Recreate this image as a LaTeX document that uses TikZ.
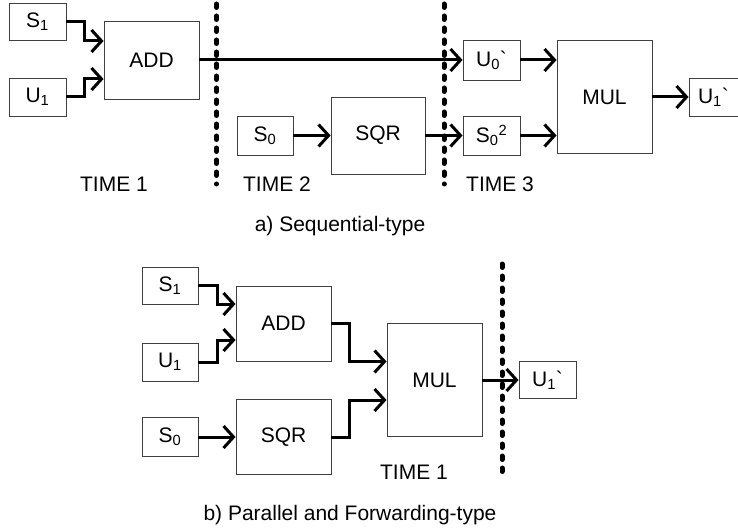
\documentclass[tikz,border=0pt]{standalone}
\usepackage{fontspec}
\setmainfont{Liberation Sans}[Ligatures=TeXOff]
\usetikzlibrary{arrows.meta}

\begin{document}
\begin{tikzpicture}[x=1pt,y=-1pt,
  box/.style={draw=black!75, line width=0.9pt, inner sep=0pt,
    font=\fontsize{21}{25}\selectfont},
  flow/.style={line width=3pt, -{Straight Barb[length=10pt,width=22pt]}},
  divider/.style={line width=5pt, line cap=round, dash pattern=on 3.5pt off 8.5pt},
  lbl/.style={font=\fontsize{21}{25}\selectfont, anchor=base, inner sep=0pt}]

\clip (0,0) rectangle (738,529);

% ---------- a) sequential schedule ----------
\node[box, minimum width=57pt, minimum height=37pt] (S1a) at (37.5,21.5) {S\textsubscript{1}};
\node[box, minimum width=57pt, minimum height=38pt] (U1a) at (37.5,97) {U\textsubscript{1}};
\node[box, minimum width=95pt, minimum height=78pt] (ADDa) at (151.5,60) {ADD};
\node[box, minimum width=56pt, minimum height=39pt] (S0a) at (265,135.5) {S\textsubscript{0}};
\node[box, minimum width=94pt, minimum height=77pt] (SQRa) at (378,135.5) {SQR};
\node[box, minimum width=57pt, minimum height=40pt] (U0a) at (491.5,60) {U\textsubscript{0}`};
\node[box, minimum width=57pt, minimum height=39pt] (S02a) at (491.5,135.5) {S\textsubscript{0}\textsuperscript{2}};
\node[box, minimum width=95pt, minimum height=113pt] (MULa) at (604.5,97) {MUL};
\node[box, minimum width=62pt, minimum height=38pt, text width=50pt, align=left] (U1pa) at (720,97) {\hspace*{3pt}U\textsubscript{1}`};

\coordinate (d1t) at (216.5,4);
\coordinate (d1b) at (216.5,184);
\coordinate (d2t) at (444,4);
\coordinate (d2b) at (444,184);
\draw[divider] (d1t) -- (d1b);
\draw[divider] (d2t) -- (d2b);

\draw[flow] (S1a.east) -- ++(18,0) |- ([yshift=19pt]ADDa.west);
\draw[flow] (U1a.east) -- ++(18,0) |- ([yshift=-19pt]ADDa.west);
\draw[flow] (ADDa.east) -- (U0a.west);
\draw[flow] (S0a.east) -- (SQRa.west);
\draw[flow] (SQRa.east) -- (S02a.west);
\draw[flow] (U0a.east) -- (U0a.east -| MULa.west);
\draw[flow] (S02a.east) -- (S02a.east -| MULa.west);
\draw[flow] (MULa.east) -- (U1pa.west);

\node[lbl] (t1a) at (114,192) {TIME 1};
\node[lbl] (t2a) at (277,192) {TIME 2};
\node[lbl] (t3a) at (500,192) {TIME 3};
\node[lbl] (capa) at (340,232) {a) Sequential-type};

% ---------- b) parallel schedule with forwarding ----------
\node[box, minimum width=56pt, minimum height=37pt] (S1b) at (170,285.5) {S\textsubscript{1}};
\node[box, minimum width=56pt, minimum height=38pt] (U1b) at (170,362) {U\textsubscript{1}};
\node[box, minimum width=56pt, minimum height=39pt] (S0b) at (170,437) {S\textsubscript{0}};
\node[box, minimum width=95pt, minimum height=75pt] (ADDb) at (283.5,323.5) {ADD};
\node[box, minimum width=95pt, minimum height=75pt] (SQRb) at (283.5,437) {SQR};
\node[box, minimum width=95pt, minimum height=113pt] (MULb) at (434.5,380) {MUL};
\node[box, minimum width=57pt, minimum height=37pt] (U1pb) at (547.5,380) {U\textsubscript{1}`};

\coordinate (d3t) at (502,264);
\coordinate (d3b) at (502,476);
\draw[divider] (d3t) -- (d3b);

\draw[flow] (S1b.east) -- ++(19,0) |- ([yshift=19.5pt]ADDb.west);
\draw[flow] (U1b.east) -- ++(19,0) |- ([yshift=-16.5pt]ADDb.west);
\draw[flow] (S0b.east) -- (SQRb.west);
\draw[flow] (ADDb.east) -- ++(18,0) |- ([yshift=18.5pt]MULb.west);
\draw[flow] (SQRb.east) -- ++(18,0) |- ([yshift=-20pt]MULb.west);
\draw[flow] (MULb.east) -- (U1pb.west);

\node[lbl] (t1b) at (414,479) {TIME 1};
\node[lbl] (capb) at (350,520) {b) Parallel and Forwarding-type};

\end{tikzpicture}
\end{document}
